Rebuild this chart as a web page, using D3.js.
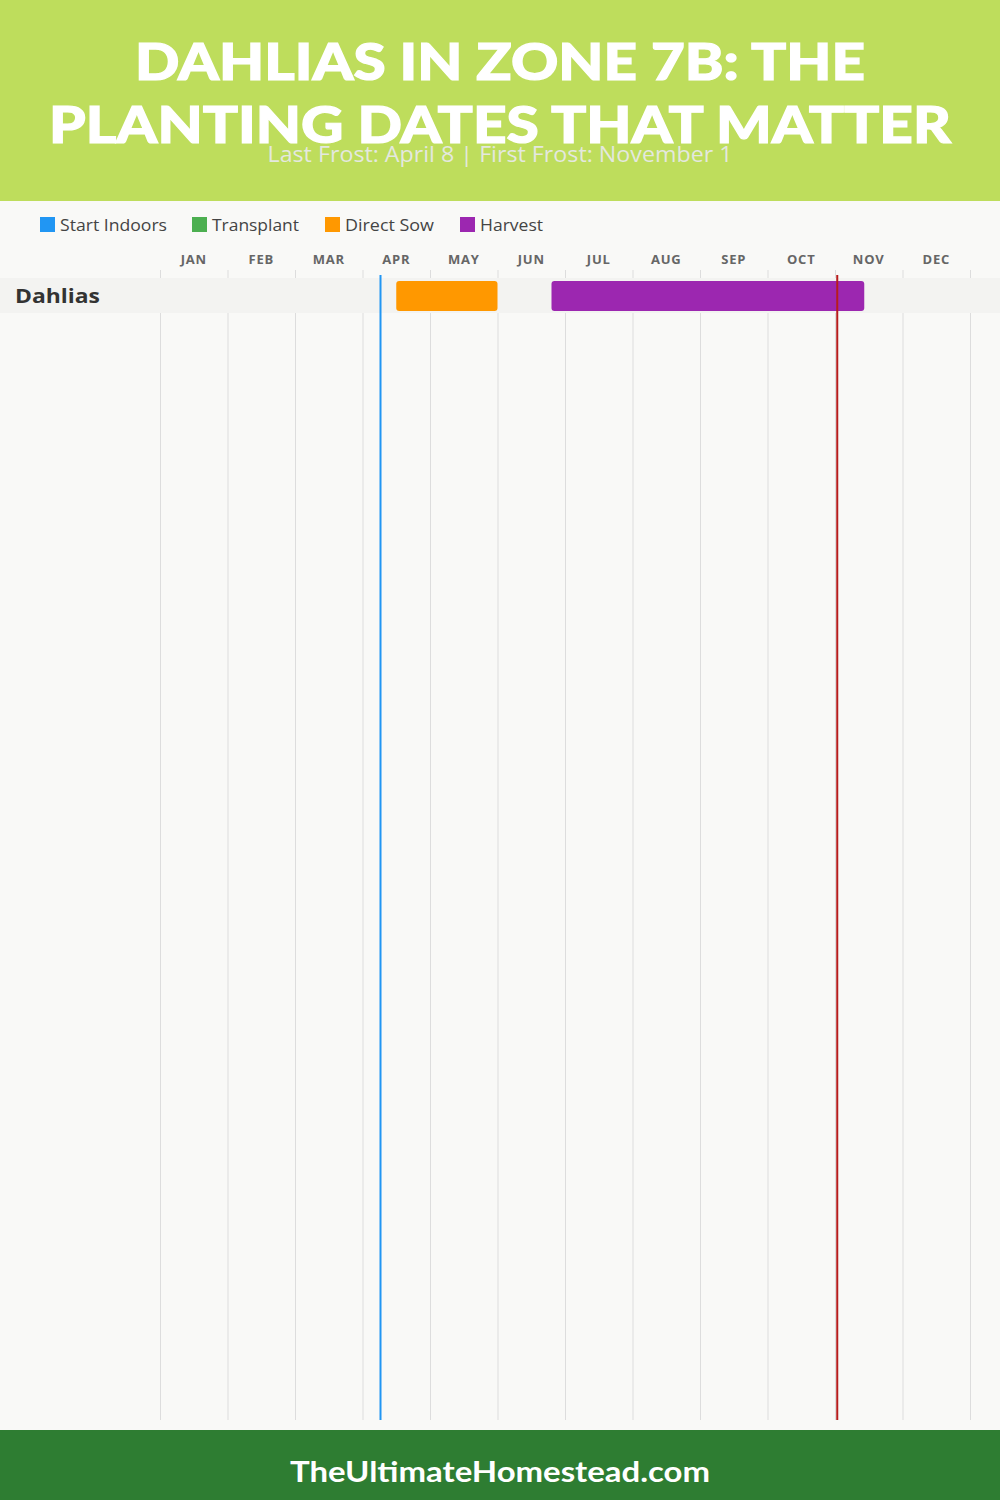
<!DOCTYPE html>
<html><head><meta charset="utf-8">
<script src="https://cdnjs.cloudflare.com/ajax/libs/d3/7.8.5/d3.min.js"></script>
<style>html,body{margin:0;padding:0;background:#f9f9f7;}svg{display:block;}</style>
</head><body><div id="chart"></div>
<script>
const titleLines = ["DAHLIAS IN ZONE 7B: THE", "PLANTING DATES THAT MATTER"];
const subtitle = "Last Frost: April 8 | First Frost: November 1";
const footerText = "TheUltimateHomestead.com";
const months = ["JAN","FEB","MAR","APR","MAY","JUN","JUL","AUG","SEP","OCT","NOV","DEC"];
const legendNames = ["Start Indoors","Transplant","Direct Sow","Harvest"];
const legendColors = ["#2196f3","#4caf50","#ff9800","#9c27b0"];
const crops = ["Dahlias"];
// bars: crop, activity, start [monthIndex, day], end [monthIndex, day] (day/30 fraction)
const barCrop = ["Dahlias","Dahlias"];
const barType = ["Direct Sow","Harvest"];
const barStart = [[3,15],[5,24]];
const barEnd = [[4,30],[10,13]];
const frostNames = ["Last Frost","First Frost"];
const frostDates = [[3,8],[10,1]];
const frostColors = ["#2196f3","#b71c1c"];

const W = 1000, H = 1500;
const svg = d3.select("#chart").append("svg").attr("width", W).attr("height", H);
svg.append("rect").attr("width", W).attr("height", H).attr("fill", "#f9f9f7");

// header
svg.append("rect").attr("x",0).attr("y",0).attr("width",W).attr("height",201).attr("fill","#bedd5c");
const tFont = "'Lato','Open Sans','DejaVu Sans',sans-serif";
const titleY = [80, 143], titleW = [730, 902];
titleLines.forEach((t,i) => {
  svg.append("text").attr("x", W/2).attr("y", titleY[i]).attr("text-anchor","middle")
    .attr("font-family", tFont).attr("font-weight", 900).attr("font-size", 52)
    .attr("stroke","#ffffff").attr("stroke-width",1.2)
    .attr("textLength", titleW[i]).attr("lengthAdjust","spacingAndGlyphs")
    .attr("fill","#ffffff").text(t);
});
svg.append("text").attr("x", W/2).attr("y", 162).attr("text-anchor","middle")
  .attr("font-family","'Open Sans',sans-serif").attr("font-size",21).attr("font-weight",400)
  .attr("textLength",465).attr("lengthAdjust","spacingAndGlyphs")
  .attr("fill","#e4e8df").text(subtitle);

// legend
const legendX = [40,192,325,460];
const legendTextW = [107,87,89,63];
const color = d3.scaleOrdinal().domain(legendNames).range(legendColors);
legendNames.forEach((n,i) => {
  svg.append("rect").attr("x",legendX[i]).attr("y",217).attr("width",15).attr("height",15).attr("fill",color(n));
  svg.append("text").attr("x",legendX[i]+20).attr("y",231).attr("font-family","'Open Sans',sans-serif")
    .attr("font-size",16).attr("fill","#444")
    .attr("textLength",legendTextW[i]).attr("lengthAdjust","spacingAndGlyphs").text(n);
});

// scales
const x = d3.scaleLinear().domain([0,12]).range([160,970]);
const dt = d => d[0] + d[1]/30;
const y = d3.scaleBand().domain(crops).range([278, 278 + 35*crops.length]);
const gridTop = 270, gridBottom = 1420;

// gridlines
svg.append("g").selectAll("line").data(d3.range(0,13)).join("line")
  .attr("x1", d=>x(d)+0.5).attr("x2", d=>x(d)+0.5).attr("y1",gridTop).attr("y2",gridBottom)
  .attr("stroke","#dddddd").attr("stroke-width",1);

// month labels
svg.append("g").selectAll("text").data(months).join("text")
  .attr("x",(d,i)=>x(i+0.5)).attr("y",264).attr("text-anchor","middle")
  .attr("font-family","'Open Sans',sans-serif").attr("font-weight",700).attr("font-size",13)
  .attr("letter-spacing",0.8)
  .attr("fill","#666").text(d=>d);

// row bands
svg.append("g").selectAll("rect").data(crops).join("rect")
  .attr("x",0).attr("width",W).attr("y",d=>y(d)).attr("height",y.bandwidth()).attr("fill","#f3f3f1");
svg.append("g").selectAll("text").data(crops).join("text")
  .attr("x",15).attr("y",d=>y(d)+y.bandwidth()/2+7)
  .attr("font-family","'Open Sans',sans-serif").attr("font-weight",700).attr("font-size",20)
  .attr("textLength",85).attr("lengthAdjust","spacingAndGlyphs")
  .attr("fill","#333").text(d=>d);

// bars
svg.append("g").selectAll("rect").data(barType.map((t,i)=>i)).join("rect")
  .attr("x", i=>x(dt(barStart[i]))).attr("width", i=>x(dt(barEnd[i]))-x(dt(barStart[i])))
  .attr("y", i=>y(barCrop[i])+3).attr("height", y.bandwidth()-5)
  .attr("rx",3).attr("fill", i=>color(barType[i]));

// frost lines
svg.append("g").selectAll("line").data(frostNames.map((n,i)=>i)).join("line")
  .attr("x1", i=>x(dt(frostDates[i]))).attr("x2", i=>x(dt(frostDates[i])))
  .attr("y1",275).attr("y2",gridBottom).attr("stroke",i=>frostColors[i]).attr("stroke-width",2);

// footer
svg.append("rect").attr("x",0).attr("y",1430).attr("width",W).attr("height",70).attr("fill","#2e7d32");
svg.append("text").attr("x",W/2).attr("y",1482).attr("text-anchor","middle")
  .attr("font-family",tFont).attr("font-weight",700).attr("font-size",29)
  .attr("textLength",420).attr("lengthAdjust","spacingAndGlyphs")
  .attr("fill","#fff").text(footerText);
</script>
</body></html>
